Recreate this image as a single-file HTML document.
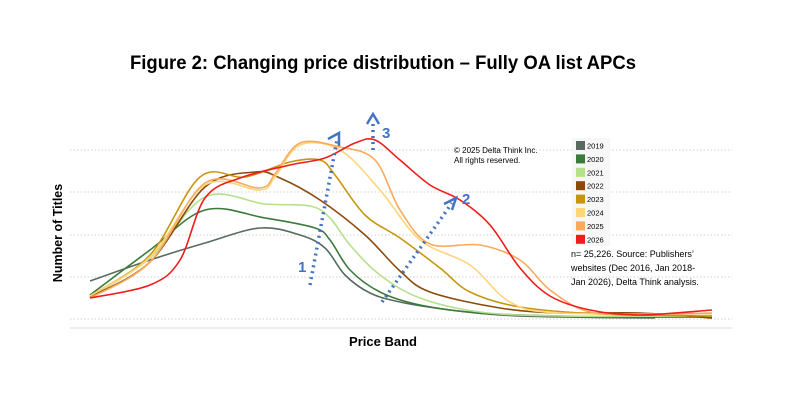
<!DOCTYPE html>
<html><head><style>
body{margin:0;background:#fff;}
svg{display:block;font-family:"Liberation Sans",sans-serif;}
</style></head><body>
<svg id="s" width="787" height="402" viewBox="0 0 787 402">
<text x="383" y="69" text-anchor="middle" font-size="19" font-weight="bold" fill="#000" textLength="506" lengthAdjust="spacingAndGlyphs">Figure 2: Changing price distribution – Fully OA list APCs</text>
<g stroke="#d0d0d0" stroke-dasharray="1.5 2" stroke-width="1">
<line x1="70" y1="150" x2="732" y2="150"/><line x1="70" y1="192" x2="732" y2="192"/><line x1="70" y1="235" x2="732" y2="235"/><line x1="70" y1="277" x2="732" y2="277"/><line x1="70" y1="319" x2="732" y2="319"/>
</g>
<line x1="70" y1="328" x2="732" y2="328" stroke="#d9d9d9" stroke-width="1"/>
<text transform="translate(62,233) rotate(-90)" text-anchor="middle" font-size="12.5" font-weight="bold">Number of Titles</text>
<text x="383" y="346" text-anchor="middle" font-size="13" font-weight="bold">Price Band</text>
<g id="curves" fill="none" stroke-width="1.6"></g>
<g stroke="#4472c4" stroke-width="3.5" stroke-dasharray="2 4" fill="none">
<line x1="310" y1="285" x2="337" y2="140"/>
<line x1="382" y1="302" x2="452" y2="203"/>
<line x1="373" y1="150" x2="373" y2="120"/>
</g>
<g stroke="#4472c4" stroke-width="2.5" fill="none">
<polyline points="328,139 339,133 339,146"/>
<polyline points="444,204 456,198 452,210"/>
<polyline points="367,124 373,114 379,124"/>
</g>
<g fill="#4472c4" font-size="15" font-weight="bold">
<text x="298" y="272">1</text><text x="462" y="204">2</text><text x="382" y="138">3</text>
</g>
<g font-size="8" fill="#000"><text x="454" y="153">© 2025 Delta Think Inc.</text><text x="454" y="163">All rights reserved.</text></g>
<rect x="572" y="138" width="38" height="108" fill="#f7f7f7"/>
<g id="leg" font-size="7.5"></g>
<g font-size="9" fill="#000"><text x="571" y="257">n= 25,226. Source: Publishers’</text><text x="571" y="271">websites (Dec 2016, Jan 2018-</text><text x="571" y="285">Jan 2026), Delta Think analysis.</text></g>
</svg>
<script>
var D=[
["2019","#596b5e",[[90,281],[150,260],[205,243],[260,228],[300,235],[325,248],[345,275],[370,293],[400,302],[450,310],[500,315],[560,317],[655,318]]],
["2020","#3a7a3a",[[90,295],[150,250],[205,210],[265,218],[315,228],[330,240],[350,270],[380,292],[420,305],[480,313],[560,316],[650,317],[712,317]]],
["2021","#b5e08c",[[90,297],[150,258],[205,197],[265,204],[310,206],[330,218],[350,245],[380,275],[420,298],[480,312],[560,316],[712,316]]],
["2022","#8b4a0a",[[90,297],[150,262],[205,187],[255,172],[280,178],[320,200],[365,235],[400,271],[430,292],[500,308],[560,313],[640,313],[712,318]]],
["2023","#c8960e",[[90,296],[150,255],[200,177],[245,177],[290,162],[320,160],[335,175],[365,215],[400,238],[440,268],[470,292],[520,307],[600,314],[712,316]]],
["2024","#fdd57a",[[90,296],[150,257],[205,185],[260,190],[275,177],[300,145],[340,150],[380,190],[420,240],[470,265],[510,302],[560,313],[712,314]]],
["2025","#f9aa5c",[[90,298],[150,262],[205,183],[260,188],[275,174],[300,143],[340,147],[375,160],[400,210],[430,244],[480,245],[520,260],[550,290],[590,312],[650,314],[712,313]]],
["2026","#ee1c1c",[[90,298],[150,285],[180,260],[205,198],[240,178],[290,165],[325,158],[355,143],[375,140],[400,160],[430,185],[460,200],[490,225],[520,268],[550,296],[590,310],[640,315],[712,310]]]
];
var ns="http://www.w3.org/2000/svg",g=document.getElementById("curves"),L=document.getElementById("leg");
D.forEach(function(d,k){var p=d[2],s="M"+p[0][0]+","+p[0][1];
for(var i=0;i<p.length-1;i++){var a=p[i-1]||p[i],b=p[i],c=p[i+1],e=p[i+2]||c;
s+=" C"+(b[0]+(c[0]-a[0])/6)+","+(b[1]+(c[1]-a[1])/6)+" "+(c[0]-(e[0]-b[0])/6)+","+(c[1]-(e[1]-b[1])/6)+" "+c[0]+","+c[1];}
var el=document.createElementNS(ns,"path");el.setAttribute("d",s);el.setAttribute("stroke",d[1]);g.appendChild(el);
var y=141+k*13.4;var r=document.createElementNS(ns,"rect");r.setAttribute("x",576);r.setAttribute("y",y);r.setAttribute("width",9);r.setAttribute("height",9);r.setAttribute("fill",d[1]);L.appendChild(r);
var t=document.createElementNS(ns,"text");t.setAttribute("x",587);t.setAttribute("y",y+7.5);t.textContent=d[0];L.appendChild(t);});
</script>
</body></html>
